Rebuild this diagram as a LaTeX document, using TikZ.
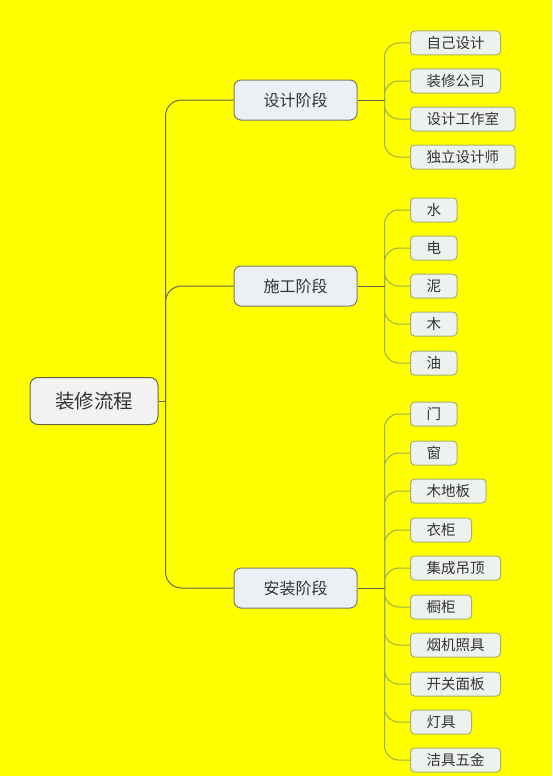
\documentclass[tikz,border=0pt]{standalone}
\usepackage{fontspec}
\setmainfont{Noto Sans CJK SC}
\usetikzlibrary{calc, positioning}
\definecolor{bgyellow}{HTML}{FFFF00}
\definecolor{rootfill}{HTML}{F2F2F2}
\definecolor{stagefill}{HTML}{ECF0F5}
\definecolor{leaffill}{HTML}{EEF2EE}
\definecolor{darkline}{HTML}{65664A}
\definecolor{leafline}{HTML}{9CAF50}
\definecolor{leafborder}{HTML}{A2B46E}
\definecolor{txt}{HTML}{333333}
\begin{document}
\begin{tikzpicture}[x=1pt, y=-1pt,
  rootbox/.style={draw=darkline, line width=1pt, fill=rootfill, rounded corners=8pt,
    minimum width=128pt, minimum height=47pt, text=txt, font=\fontsize{19.5}{19.5}\selectfont},
  stagebox/.style={draw=darkline!85, line width=1pt, fill=stagefill, rounded corners=7pt,
    minimum width=123pt, minimum height=40pt, text=txt, font=\fontsize{16}{16}\selectfont},
  leafbox/.style={draw=leafborder, line width=1pt, fill=leaffill, rounded corners=4pt,
    anchor=west, inner xsep=16pt, inner ysep=0pt, minimum height=24pt, text=txt,
    font=\fontsize{14.5}{14.5}\selectfont},
  trunk/.style={draw=darkline, line width=1pt},
  twig/.style={draw=leafline, line width=1pt, rounded corners=14pt}]
\fill[bgyellow] (0,0) rectangle (552,776);
\useasboundingbox (0,0) rectangle (552,776);

\node[rootbox] (root) at (94,401) {装修流程};
\node[stagebox] (design) at (295.5,100) {设计阶段};
\node[stagebox] (build) at (295.5,286) {施工阶段};
\node[stagebox] (install) at (295.5,588) {安装阶段};

\node[leafbox] (d1) at (410,43) {自己设计};
\node[leafbox] (d2) at (410,81) {装修公司};
\node[leafbox] (d3) at (410,119) {设计工作室};
\node[leafbox] (d4) at (410,157) {独立设计师};

\node[leafbox] (b1) at (410,210) {水};
\node[leafbox] (b2) at (410,248) {电};
\node[leafbox] (b3) at (410,286) {泥};
\node[leafbox] (b4) at (410,324) {木};
\node[leafbox] (b5) at (410,363) {油};

\node[leafbox] (i1) at (410,414) {门};
\node[leafbox] (i2) at (410,453) {窗};
\node[leafbox] (i3) at (410,491) {木地板};
\node[leafbox] (i4) at (410,530) {衣柜};
\node[leafbox] (i5) at (410,568) {集成吊顶};
\node[leafbox] (i6) at (410,607) {橱柜};
\node[leafbox] (i7) at (410,645) {烟机照具};
\node[leafbox] (i8) at (410,684) {开关面板};
\node[leafbox] (i9) at (410,722) {灯具};
\node[leafbox] (i10) at (410,760) {洁具五金};

\coordinate (j0) at ($(root.east)+(7,0)$);
\coordinate (jd) at ($(design.east)+(27,0)$);
\coordinate (jb) at ($(build.east)+(27,0)$);
\coordinate (ji) at ($(install.east)+(27,0)$);

\draw[trunk] (root) -- (j0);
\draw[trunk, rounded corners=16pt] (j0) |- (design.west);
\draw[trunk, rounded corners=16pt] (j0) |- (build.west);
\draw[trunk, rounded corners=16pt] (j0) |- (install.west);

\draw[twig] (jd) |- (d1.west);
\draw[twig] (jd) |- (d2.west);
\draw[twig] (jd) |- (d3.west);
\draw[twig] (jd) |- (d4.west);
\draw[twig] (jb) |- (b1.west);
\draw[twig] (jb) |- (b2.west);
\draw[twig] (jb) |- (b3.west);
\draw[twig] (jb) |- (b4.west);
\draw[twig] (jb) |- (b5.west);
\draw[twig] (ji) |- (i1.west);
\draw[twig] (ji) |- (i2.west);
\draw[twig] (ji) |- (i3.west);
\draw[twig] (ji) |- (i4.west);
\draw[twig] (ji) |- (i5.west);
\draw[twig] (ji) |- (i6.west);
\draw[twig] (ji) |- (i7.west);
\draw[twig] (ji) |- (i8.west);
\draw[twig] (ji) |- (i9.west);
\draw[twig] (ji) |- (i10.west);
\draw[trunk] (design) -- (jd);
\draw[trunk] (build) -- (jb);
\draw[trunk] (install) -- (ji);
\end{tikzpicture}
\end{document}
